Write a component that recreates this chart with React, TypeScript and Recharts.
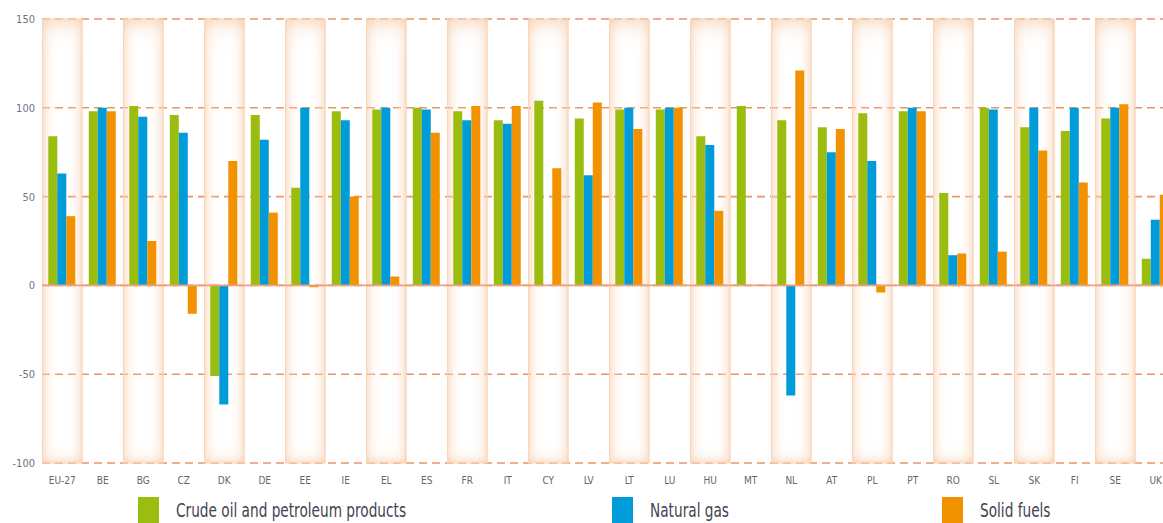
import React from 'react';
import { BarChart, Bar, XAxis, YAxis, CartesianGrid, ReferenceLine, ReferenceArea } from 'recharts';

const categories = ["EU-27","BE","BG","CZ","DK","DE","EE","IE","EL","ES","FR","IT","CY","LV","LT","LU","HU","MT","NL","AT","PL","PT","RO","SL","SK","FI","SE","UK"];
const crudeOil = [84, 98, 101, 96, -51, 96, 55, 98, 99, 100, 98, 93, 104, 94, 99, 99, 84, 101, 93, 89, 97, 98, 52, 100, 89, 87, 94, 15];
const naturalGas = [63, 100, 95, 86, -67, 82, 100, 93, 100, 99, 93, 91, null, 62, 100, 100, 79, null, -62, 75, 70, 100, 17, 99, 100, 100, 100, 37];
const solidFuels = [39, 98, 25, -16, 70, 41, -1, 50, 5, 86, 101, 101, 66, 103, 88, 100, 42, null, 121, 88, -4, 98, 18, 19, 76, 58, 102, 51];
const yTicks = [-100, -50, 0, 50, 100, 150];
const seriesNames = ["Crude oil and petroleum products", "Natural gas", "Solid fuels"];
const seriesColors = ["#9bbd0f", "#009cda", "#f39200"];
const bandCategories = categories.filter((_, i) => i % 2 === 0);

const data = categories.map((c, i) => ({
  name: c,
  crude: crudeOil[i],
  gas: naturalGas[i],
  solid: solidFuels[i],
}));

const FONT = "'DejaVu Sans Condensed', 'Liberation Sans', sans-serif";

const BandShape = (props: any) => {
  const { x, y, width, height } = props;
  return (
    <g>
      <rect x={x} y={y} width={width} height={height} fill="url(#bandH)" />
      <rect x={x} y={y} width={width} height={height} fill="url(#bandV)" />
      <rect x={x + 0.5} y={y} width={width - 1} height={height} fill="none" stroke="#f8d6ba" strokeWidth={1} />
    </g>
  );
};

export default function App() {
  const legendX = [138, 612, 942];
  return (
    <div style={{ position: 'absolute', left: 0, top: 0, width: 1163, height: 523, overflow: 'hidden', background: '#fff' }}>
      <BarChart
        width={1180}
        height={523}
        data={data}
        margin={{ top: 19, right: 4, left: 0, bottom: 0 }}
        barCategoryGap="15.5%"
        barGap={0}
      >
        <defs>
          <linearGradient id="bandH" x1="0" y1="0" x2="1" y2="0">
            <stop offset="0%" stopColor="#f6c49c" stopOpacity={0.6} />
            <stop offset="10%" stopColor="#fadcc4" stopOpacity={0.45} />
            <stop offset="28%" stopColor="#fdf0e6" stopOpacity={0.12} />
            <stop offset="50%" stopColor="#ffffff" stopOpacity={0} />
            <stop offset="72%" stopColor="#fdf0e6" stopOpacity={0.12} />
            <stop offset="90%" stopColor="#fadcc4" stopOpacity={0.45} />
            <stop offset="100%" stopColor="#f6c49c" stopOpacity={0.6} />
          </linearGradient>
          <linearGradient id="bandV" x1="0" y1="0" x2="0" y2="1">
            <stop offset="0%" stopColor="#f6c49c" stopOpacity={0.5} />
            <stop offset="4%" stopColor="#fbe6d6" stopOpacity={0.15} />
            <stop offset="8%" stopColor="#ffffff" stopOpacity={0} />
            <stop offset="95%" stopColor="#ffffff" stopOpacity={0} />
            <stop offset="98%" stopColor="#fbe6d6" stopOpacity={0.2} />
            <stop offset="100%" stopColor="#f6c49c" stopOpacity={0.5} />
          </linearGradient>
        </defs>
        {bandCategories.map((c) => (
          <ReferenceArea key={c} x1={c} x2={c} shape={<BandShape />} ifOverflow="extendDomain" />
        ))}
        <CartesianGrid vertical={false} stroke="#ea9566" strokeDasharray="8 5" strokeWidth={1.6} />
        <XAxis
          dataKey="name"
          axisLine={false}
          tickLine={false}
          tickSize={0}
          tickMargin={14}
          interval={0}
          height={60}
          tick={{ fill: '#5f6672', fontSize: 10, fontFamily: FONT }}
        />
        <YAxis
          domain={[-100, 150]}
          ticks={yTicks}
          axisLine={false}
          tickLine={false}
          tickSize={0}
          tickMargin={7}
          width={42}
          tick={{ fill: '#6d7585', fontSize: 11, fontFamily: FONT }}
        />
        <ReferenceLine y={0} stroke="#eea27c" strokeWidth={1.6} />
        <Bar dataKey="crude" name={seriesNames[0]} fill={seriesColors[0]} isAnimationActive={false} />
        <Bar dataKey="gas" name={seriesNames[1]} fill={seriesColors[1]} isAnimationActive={false} />
        <Bar dataKey="solid" name={seriesNames[2]} fill={seriesColors[2]} isAnimationActive={false} />
      </BarChart>
      {seriesNames.map((n, i) => (
        <div key={n} style={{ position: 'absolute', left: legendX[i], top: 497, height: 30, display: 'flex', alignItems: 'flex-start' }}>
          <div style={{ width: 21, height: 30, background: seriesColors[i] }} />
          <div style={{ marginLeft: 17, marginTop: 1, fontFamily: FONT, fontSize: 19, color: '#3f4450', lineHeight: '24px', whiteSpace: 'nowrap', transform: 'scaleX(0.8)', transformOrigin: 'left center' }}>{n}</div>
        </div>
      ))}
    </div>
  );
}
